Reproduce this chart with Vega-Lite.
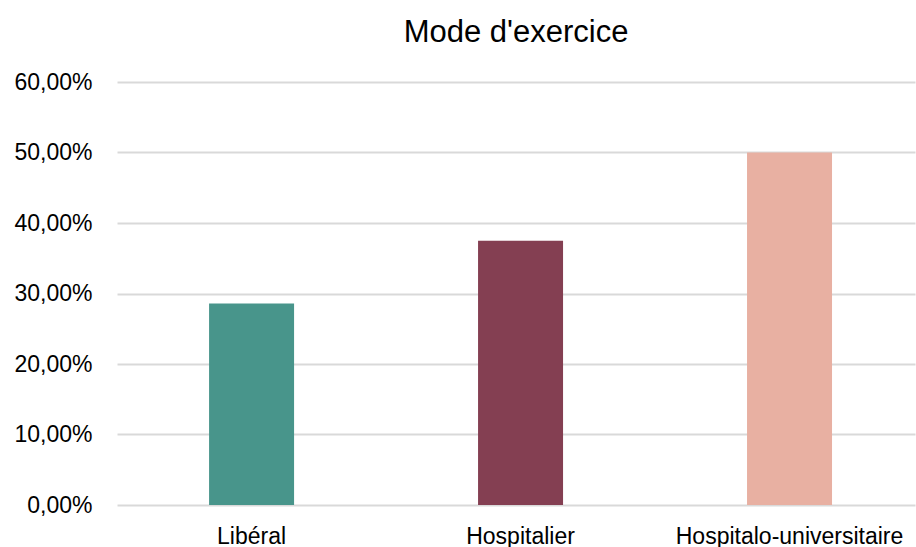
{
  "$schema": "https://vega.github.io/schema/vega-lite/v6.json",
  "autosize": {"type": "none"},
  "width": 798,
  "height": 423,
  "padding": {"left": 117, "top": 82, "right": 1, "bottom": 42},
  "background": "white",
  "config": {
    "view": {"stroke": null},
    "font": "Liberation Sans",
    "locale": {"number": {"decimal": ",", "thousands": " ", "grouping": [3], "currency": ["", " €"]}}
  },
  "title": {"text": "Mode d'exercice", "fontSize": 31, "fontWeight": "normal", "color": "#000000", "frame": "group", "anchor": "middle", "offset": 22, "font": "Liberation Sans"},
  "data": {"values": [
    {"mode": "Libéral", "pct": 0.2857},
    {"mode": "Hospitalier", "pct": 0.375},
    {"mode": "Hospitalo-universitaire", "pct": 0.5}
  ]},
  "mark": {"type": "bar"},
  "encoding": {
    "x": {"field": "mode", "type": "nominal", "sort": null,
      "scale": {"paddingInner": 0.684, "paddingOuter": 0.3254, "align": 0.526},
      "axis": {"title": null, "labelAngle": 0, "domain": false, "ticks": false, "labelFontSize": 23, "labelColor": "#000000", "labelPadding": 20, "labelLimit": 0, "labelFont": "Liberation Sans"}},
    "y": {"field": "pct", "type": "quantitative",
      "scale": {"domain": [0, 0.6], "nice": false},
      "axis": {"title": null, "format": ".2%", "values": [0, 0.1, 0.2, 0.3, 0.4, 0.5, 0.6], "domain": false, "ticks": false, "labelFontSize": 23, "labelColor": "#000000", "labelPadding": 25, "labelFont": "Liberation Sans", "gridColor": "#d9d9d9", "gridWidth": 2}},
    "color": {"field": "mode", "type": "nominal", "sort": null,
      "scale": {"domain": ["Libéral", "Hospitalier", "Hospitalo-universitaire"], "range": ["#48958B", "#843F52", "#E8B0A2"]},
      "legend": null}
  }
}
